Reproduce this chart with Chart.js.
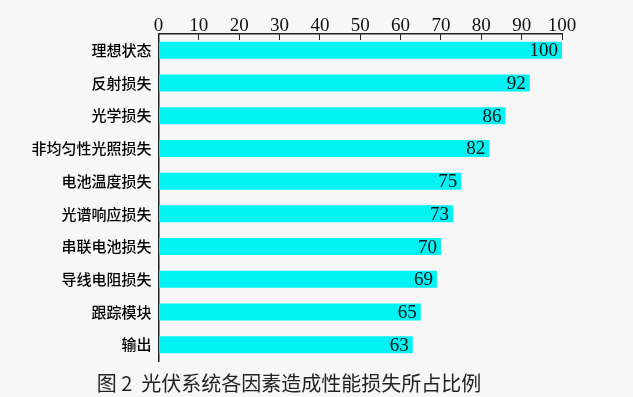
<!DOCTYPE html>
<html>
<head>
<meta charset="utf-8">
<script src="https://cdn.jsdelivr.net/npm/chart.js@4.4.1/dist/chart.umd.min.js"></script>
<style>
  html, body { margin: 0; padding: 0; background: #f7f7f7; }
  #wrap { width: 633px; height: 397px; }
</style>
</head>
<body>
<div id="wrap"><canvas id="c" width="633" height="397"></canvas></div>
<script>
// categories, top to bottom
const categories = ['理想状态', '反射损失', '光学损失', '非均匀性光照损失', '电池温度损失',
    '光谱响应损失', '串联电池损失', '导线电阻损失', '跟踪模块', '输出'];
const values = [100, 92, 86, 82, 75, 73, 70, 69, 65, 63];
const xTicks = [0, 10, 20, 30, 40, 50, 60, 70, 80, 90, 100];
const titleText = '图 2  光伏系统各因素造成性能损失所占比例';

// valore scritto dentro la fine della barra
const endLabels = {
    id: 'endLabels',
    afterDatasetsDraw(chart) {
        const ctx = chart.ctx;
        const meta = chart.getDatasetMeta(0);
        ctx.save();
        ctx.font = '19px "Liberation Serif", "Times New Roman", serif';
        ctx.fillStyle = '#111';
        ctx.textAlign = 'right';
        ctx.textBaseline = 'middle';
        meta.data.forEach((bar, i) => {
            ctx.fillText(String(values[i]), bar.x - 4, bar.y + 1);
        });
        ctx.restore();
    }
};

new Chart(document.getElementById('c'), {
    type: 'bar',
    data: {
        labels: categories,
        datasets: [{
            data: values,
            backgroundColor: '#00f2f2',
            borderWidth: 0,
            categoryPercentage: 1,
            barPercentage: 0.52
        }]
    },
    options: {
        indexAxis: 'y',
        responsive: false,
        animation: false,
        layout: { padding: { left: 16, right: 71, top: 0, bottom: 0 } },
        plugins: {
            legend: { display: false },
            tooltip: { enabled: false },
            title: {
                display: true,
                position: 'bottom',
                text: titleText,
                color: '#222',
                font: { family: '"Noto Sans CJK SC", sans-serif', size: 20, weight: 'normal' },
                padding: { top: 10, bottom: 2 }
            }
        },
        scales: {
            x: {
                position: 'top',
                min: 0,
                max: 100,
                afterBuildTicks: s => { s.ticks = xTicks.map(v => ({ value: v })); },
                afterFit: s => { s.height = 34; },
                border: { display: true, color: '#222', width: 1.5 },
                grid: { drawOnChartArea: false, color: '#222', tickLength: -6, lineWidth: 1 },
                ticks: {
                    color: '#111',
                    padding: 3,
                    maxRotation: 0,
                    font: { family: '"Liberation Serif", "Times New Roman", serif', size: 19 }
                }
            },
            y: {
                afterFit: s => { s.width = 142.5; },
                border: { display: true, color: '#222', width: 1.5 },
                grid: { drawOnChartArea: false, offset: false, color: '#222', tickLength: -6, lineWidth: 1 },
                ticks: {
                    color: '#000',
                    padding: 13,
                    font: { family: '"Noto Sans CJK SC", sans-serif', size: 15, weight: '500' }
                }
            }
        }
    },
    plugins: [endLabels]
});
</script>
</body>
</html>
